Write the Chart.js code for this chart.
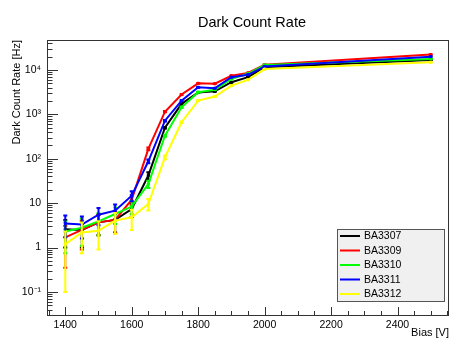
<!DOCTYPE html>
<html>
<head>
<meta charset="utf-8">
<title>Dark Count Rate</title>
<script src="https://cdn.jsdelivr.net/npm/chart.js@4/dist/chart.umd.min.js"></script>
<style>
  html, body { margin: 0; padding: 0; background: #fff; }
  canvas { display: block; }
</style>
</head>
<body>
<canvas id="darkCountChart" width="454" height="344"></canvas>
<script>
// ========================================
// Data
// ========================================

const biasVoltages = [1400, 1450, 1500, 1550, 1600, 1650, 1700, 1750, 1800, 1850, 1900, 1950, 2000, 2500];

const seriesLabels = ['BA3307', 'BA3309', 'BA3310', 'BA3311', 'BA3312'];
const seriesColors = ['#000000', '#ff0000', '#00ff00', '#0000ff', '#ffff00'];

const rateBA3307 = [2.6, 2.5, 3.7, 4.2, 7.4, 42, 500, 1730, 3100, 3300, 5300, 6900, 11500, 16900];
const rateBA3309 = [1.7, 2.5, 3.7, 4.2, 12, 167, 1150, 2800, 5000, 4900, 7400, 8600, 13200, 22300];
const rateBA3310 = [2.3, 2.8, 3.9, 5.7, 8.4, 27, 332, 1440, 3170, 3600, 6300, 8200, 13000, 17800];
const rateBA3311 = [3.5, 3.3, 5.5, 6.8, 14.8, 88, 720, 2040, 4070, 3880, 6900, 7800, 12000, 20000];
const rateBA3312 = [1.2, 2.2, 2.4, 4.05, 4.8, 9.6, 108, 665, 2040, 2530, 4450, 6000, 10500, 14900];

const errBA3307 = [1.6, 1.5, 1.8, 2.0, 2.5, 8, 20, 40, 60, 60, 75, 85, 110, 130];
const errBA3309 = [1.35, 1.6, 1.8, 2.1, 3, 12, 35, 50, 70, 70, 90, 90, 120, 150];
const errBA3310 = [1.55, 1.7, 2.0, 2.3, 2.8, 5, 18, 38, 55, 60, 80, 90, 110, 130];
const errBA3311 = [1.8, 1.7, 2.3, 2.5, 3.8, 9, 27, 45, 64, 62, 83, 88, 110, 140];
const errBA3312 = [1.1, 1.45, 1.5, 2.0, 2.3, 2.8, 10, 26, 45, 50, 67, 77, 100, 120];

const xTickValues = [1400, 1600, 1800, 2000, 2200, 2400];
const yTickValues = [0.1, 1, 10, 100, 1000, 10000];
const yTickLabels = ['10\u207B\u00B9', '1', '10', '10\u00B2', '10\u00B3', '10\u2074'];

const seriesRates = [rateBA3307, rateBA3309, rateBA3310, rateBA3311, rateBA3312];
const seriesErrors = [errBA3307, errBA3309, errBA3310, errBA3311, errBA3312];

// ========================================
// Helpers / plugins
// ========================================

const FONT = "'Liberation Sans', Arial, Helvetica, sans-serif";

function toPoints(values) {
    return values.map((v, i) => ({ x: biasVoltages[i], y: v }));
}

// vertical error bars with small caps, drawn together with each graph
const errorBarPlugin = {
    id: 'errorBars',
    afterDatasetDraw(chart, args) {
        const ds = chart.data.datasets[args.index];
        if (!ds.errors) return;
        const xs = chart.scales.x;
        const ys = chart.scales.y;
        const ctx = chart.ctx;
        ctx.save();
        ctx.strokeStyle = ds.borderColor;
        ctx.lineWidth = 2;
        ds.data.forEach((p, i) => {
            const e = ds.errors[i];
            const px = xs.getPixelForValue(p.x);
            const lo = Math.max(p.y - e, ys.min);
            const yTop = ys.getPixelForValue(p.y + e);
            const yBot = ys.getPixelForValue(lo);
            ctx.beginPath();
            ctx.moveTo(px, yTop);
            ctx.lineTo(px, yBot);
            ctx.moveTo(px - 2, yTop);
            ctx.lineTo(px + 2, yTop);
            if (p.y - e > ys.min) {
                ctx.moveTo(px - 2, yBot);
                ctx.lineTo(px + 2, yBot);
            }
            ctx.stroke();
        });
        ctx.restore();
    }
};

// ROOT-like frame, inward ticks, title and legend box
const rootStylePlugin = {
    id: 'rootStyle',
    afterDraw(chart) {
        const ctx = chart.ctx;
        const area = chart.chartArea;
        const xs = chart.scales.x;
        const ys = chart.scales.y;

        ctx.save();
        ctx.strokeStyle = '#333';
        ctx.lineWidth = 1;

        // frame
        ctx.strokeRect(area.left + 0.5, area.top + 0.5, area.right - area.left - 1, area.bottom - area.top);

        // x ticks (every 50 V, major every 200 V)
        ctx.beginPath();
        for (let v = 1350; v <= 2550; v += 50) {
            const px = Math.round(xs.getPixelForValue(v)) + 0.5;
            const len = (v % 200 === 0) ? 8 : 4;
            ctx.moveTo(px, area.bottom);
            ctx.lineTo(px, area.bottom - len);
        }
        // y ticks (log decades + minors)
        for (let d = -2; d <= 4; d++) {
            for (let k = 1; k <= 9; k++) {
                const v = k * Math.pow(10, d);
                if (v < ys.min || v > ys.max) continue;
                const py = Math.round(ys.getPixelForValue(v)) + 0.5;
                const len = (k === 1) ? 11 : 5.5;
                ctx.moveTo(area.left, py);
                ctx.lineTo(area.left + len, py);
            }
        }
        ctx.stroke();

        // title
        ctx.fillStyle = '#000';
        ctx.font = '14.5px ' + FONT;
        ctx.textAlign = 'center';
        ctx.textBaseline = 'alphabetic';
        ctx.fillText('Dark Count Rate', 252, 27);

        // legend
        const lx = 337, ly = 229, lw = 107, lh = 72;
        ctx.fillStyle = '#f0f0f0';
        ctx.fillRect(lx, ly, lw, lh);
        ctx.strokeStyle = '#555';
        ctx.strokeRect(lx + 0.5, ly + 0.5, lw, lh);
        ctx.font = '10.5px ' + FONT;
        ctx.textAlign = 'left';
        ctx.textBaseline = 'middle';
        chart.data.datasets.forEach((ds, i) => {
            const rowY = ly + 7 + i * 14.5;
            ctx.strokeStyle = ds.borderColor;
            ctx.lineWidth = 2;
            ctx.beginPath();
            ctx.moveTo(lx + 3, rowY);
            ctx.lineTo(lx + 23, rowY);
            ctx.stroke();
            ctx.fillStyle = '#000';
            ctx.fillText(ds.label, lx + 27, rowY + 0.5);
        });

        ctx.restore();
    }
};

// ========================================
// Chart
// ========================================

const datasets = seriesLabels.map((label, i) => ({
    label: label,
    data: toPoints(seriesRates[i]),
    errors: seriesErrors[i],
    borderColor: seriesColors[i],
    backgroundColor: seriesColors[i],
    borderWidth: 2,
    pointStyle: 'rect',
    pointRadius: 1.5,
    pointBorderWidth: 1,
    tension: 0,
    order: seriesLabels.length - i
}));

new Chart(document.getElementById('darkCountChart'), {
    type: 'line',
    data: { datasets: datasets },
    plugins: [errorBarPlugin, rootStylePlugin],
    options: {
        responsive: false,
        devicePixelRatio: 1,
        animation: false,
        layout: { padding: { top: 40, right: 2, bottom: 0, left: 0 } },
        plugins: {
            legend: { display: false },
            tooltip: { enabled: false },
            title: { display: false }
        },
        scales: {
            x: {
                type: 'linear',
                min: 1345,
                max: 2555,
                grid: { display: false, drawTicks: false },
                border: { display: false },
                afterBuildTicks: scale => {
                    scale.ticks = xTickValues.map(v => ({ value: v }));
                },
                afterFit: scale => { scale.height = 29; },
                ticks: {
                    autoSkip: false,
                    maxRotation: 0,
                    padding: 4,
                    color: '#000',
                    font: { family: FONT, size: 10.5 },
                    callback: value => String(value)
                },
                title: {
                    display: true,
                    text: 'Bias [V]',
                    align: 'end',
                    color: '#000',
                    font: { family: FONT, size: 11 },
                    padding: { top: 0, bottom: 4 }
                }
            },
            y: {
                type: 'logarithmic',
                min: 0.0303,
                max: 47400,
                grid: { display: false, drawTicks: false },
                border: { display: false },
                afterBuildTicks: scale => {
                    scale.ticks = yTickValues.map(v => ({ value: v }));
                },
                afterFit: scale => { scale.width = 47; },
                ticks: {
                    autoSkip: false,
                    padding: 6,
                    color: '#000',
                    font: { family: FONT, size: 10.5 },
                    callback: (value, index) => yTickLabels[index]
                },
                title: {
                    display: true,
                    text: 'Dark Count Rate [Hz]',
                    align: 'end',
                    color: '#000',
                    font: { family: FONT, size: 11 },
                    padding: { top: 10, bottom: 0 }
                }
            }
        }
    }
});
</script>
</body>
</html>
